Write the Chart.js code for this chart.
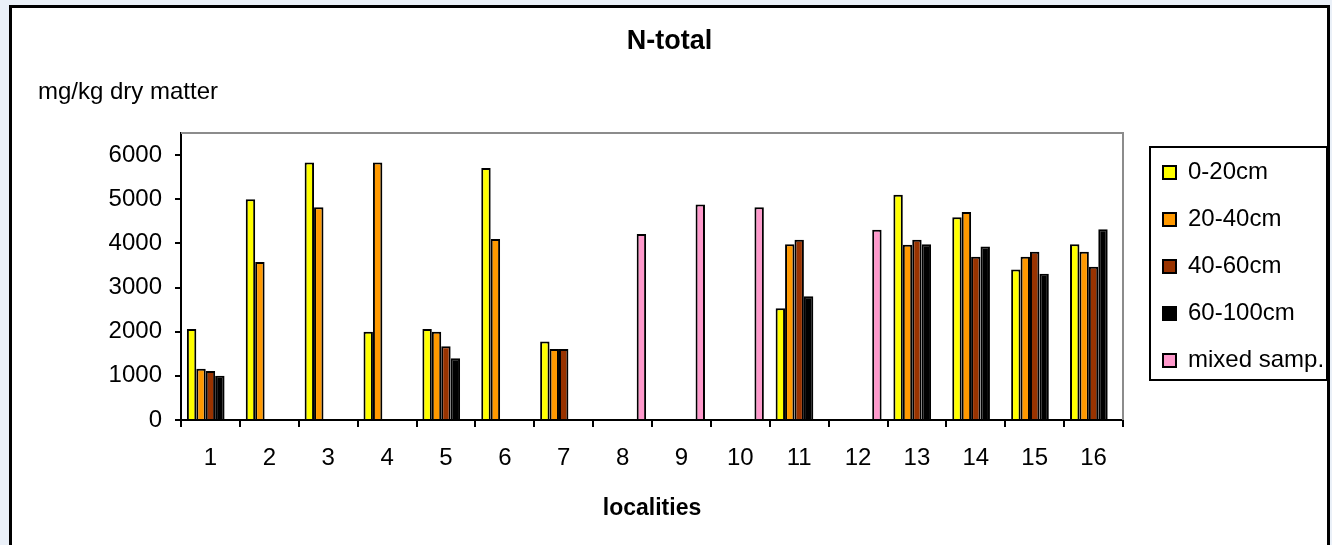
<!DOCTYPE html>
<html>
<head>
<meta charset="utf-8">
<title>N-total</title>
<script src="https://cdn.jsdelivr.net/npm/chart.js@4"></script>
<style>
  html, body { margin: 0; padding: 0; background: #eaf0f8; }
</style>
</head>
<body>
<canvas id="chart" width="1332" height="545"></canvas>
<script>
var FONT = '"Liberation Sans", Arial, sans-serif';

// localities on the x axis
var localities = ['1', '2', '3', '4', '5', '6', '7', '8', '9', '10', '11', '12', '13', '14', '15', '16'];

// N-total, mg/kg dry matter (null = no bar)
var depth0_20   = [2060, 5000, 5830, 2000, 2060, 5710, 1780, null, null, null, 2530, null, 5100, 4590, 3410, 3980];
var depth20_40  = [1160, 3580, 4820, 5830, 2000, 4100, 1610, null, null, null, 3980, null, 3970, 4710, 3700, 3810];
var depth40_60  = [1110, null, null, null, 1670, null, 1610, null, null, null, 4080, null, 4080, 3700, 3810, 3470];
var depth60_100 = [1000, null, null, null, 1400, null, null, null, null, null, 2800, null, 3980, 3930, 3310, 4320];
var mixedSamp   = [null, null, null, null, null, null, null, 4210, 4880, 4820, null, 4310, null, null, null, null];

var seriesNames = ['0-20cm', '20-40cm', '40-60cm', '60-100cm', 'mixed samp.'];
var seriesColors = ['#ffff00', '#ff9900', '#993300', '#000000', '#ff99cc'];

// y axis runs to 6500 but is labelled only up to 6000
var yMax = 6500;
var yTicks = [0, 1000, 2000, 3000, 4000, 5000, 6000];

Chart.defaults.font.family = FONT;
Chart.defaults.color = '#000';

function makeSet(i, data) {
    return {
        label: seriesNames[i],
        data: data,
        backgroundColor: seriesColors[i],
        borderColor: '#000',
        borderWidth: 2,
        categoryPercentage: 0.8,
        barPercentage: 1.0
    };
}

// white frame, grey plot border, legend box, unit text
var framePlugin = {
    id: 'frame',
    beforeDraw: function (chart) {
        var ctx = chart.ctx;
        ctx.save();
        ctx.fillStyle = '#eaf0f8';
        ctx.fillRect(0, 0, chart.width, chart.height);
        ctx.fillStyle = '#fff';
        ctx.fillRect(10, 6, chart.width - 13, chart.height);
        ctx.strokeStyle = '#000';
        ctx.lineWidth = 3;
        ctx.beginPath();
        ctx.moveTo(10.5, chart.height + 2);
        ctx.lineTo(10.5, 6.5);
        ctx.lineTo(chart.width - 3.5, 6.5);
        ctx.lineTo(chart.width - 3.5, chart.height + 2);
        ctx.stroke();
        ctx.restore();
    },
    afterLayout: function (chart) {
        var ca = chart.chartArea;
        var lg = chart.legend;
        lg.left = ca.right + 17;
        lg.right = chart.width - 5;
        lg.top = ca.top + 3.5;
        lg.bottom = ca.top + 263.5;
        lg.width = lg.right - lg.left;
        lg.height = lg.bottom - lg.top;
        var tb = chart.titleBlock;
        tb.right = chart.width - 3;
        tb.width = tb.right - tb.left;
    },
    afterDraw: function (chart) {
        var ctx = chart.ctx;
        var ca = chart.chartArea;
        ctx.save();
        // grey plot area border, top and right
        ctx.strokeStyle = '#8c8c8c';
        ctx.lineWidth = 2;
        ctx.beginPath();
        ctx.moveTo(ca.left, ca.top);
        ctx.lineTo(ca.right, ca.top);
        ctx.lineTo(ca.right, ca.bottom);
        ctx.stroke();
        // legend box
        var lg = chart.legend;
        ctx.strokeStyle = '#000';
        ctx.lineWidth = 2;
        ctx.strokeRect(lg.left + 10, ca.top + 14, lg.right - lg.left - 10, 233);
        // unit text
        ctx.fillStyle = '#000';
        ctx.font = '24px ' + FONT;
        ctx.textAlign = 'left';
        ctx.textBaseline = 'middle';
        ctx.fillText('mg/kg dry matter', ca.left - 143, 92);
        ctx.restore();
    }
};

new Chart(document.getElementById('chart'), {
    type: 'bar',
    data: {
        labels: localities,
        datasets: [
            makeSet(0, depth0_20),
            makeSet(1, depth20_40),
            makeSet(2, depth40_60),
            makeSet(3, depth60_100),
            makeSet(4, mixedSamp)
        ]
    },
    options: {
        responsive: false,
        animation: false,
        layout: { padding: { left: 10, right: 209, top: 6, bottom: 0 } },
        plugins: {
            title: {
                display: true,
                text: 'N-total',
                color: '#000',
                font: { size: 27, weight: 'bold' },
                padding: { top: 19.8, bottom: 74.8 }
            },
            legend: {
                display: true,
                position: 'chartArea',
                align: 'center',
                labels: {
                    boxWidth: 13,
                    boxHeight: 13,
                    padding: 23,
                    color: '#000',
                    font: { size: 24 }
                }
            },
            tooltip: { enabled: false }
        },
        scales: {
            x: {
                grid: { offset: true, drawOnChartArea: false, tickLength: 7, color: '#000', lineWidth: 2 },
                border: { color: '#000', width: 2 },
                ticks: { font: { size: 24 }, color: '#000', padding: 16.5, maxRotation: 0, autoSkip: false },
                title: { display: true, text: 'localities', color: '#000', font: { size: 23, weight: 'bold' }, padding: { top: 0, bottom: 23 } },
                afterFit: function (s) { s.height = 125; }
            },
            y: {
                min: 0,
                max: yMax,
                grid: { drawOnChartArea: false, tickLength: 6, color: '#000', lineWidth: 2 },
                border: { color: '#000', width: 2 },
                ticks: {
                    font: { size: 24 },
                    color: '#000',
                    padding: 13,
                    callback: function (v) { return String(v); }
                },
                afterBuildTicks: function (s) {
                    s.ticks = yTicks.map(function (v) { return { value: v }; });
                },
                afterFit: function (s) { s.width = 171; }
            }
        }
    },
    plugins: [framePlugin]
});
</script>
</body>
</html>
